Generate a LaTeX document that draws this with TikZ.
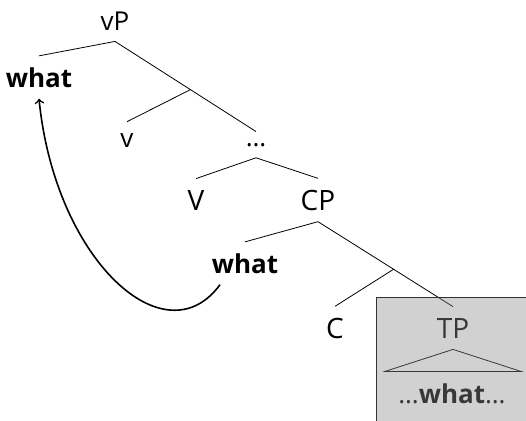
\documentclass[tikz,border=0pt]{standalone}
\usepackage{fontspec}
\setmainfont{Open Sans}
\usetikzlibrary{calc}
\tikzset{
  word/.style={anchor=base, inner sep=5.5pt, font=\fontsize{13}{15}\selectfont},
  phrase/.style={word, font=\fontsize{14}{17}\selectfont},
  movement/.style={->, thick},
  spellout/.style={fill=black!45, fill opacity=0.4, draw=black!80}
}
\begin{document}
\begin{tikzpicture}[x=0.5pt, y=-0.5pt]
  \useasboundingbox (0,0) rectangle (526,420);

  % Labels
  \node[word] (vP) at (115,30) {vP};
  \node[word] (whatTop) at (39,87) {\textbf{what}};
  \node[word] (v) at (127,147) {v};
  \node[word] (dots) at (256,146) {…};
  \node[phrase] (V) at (196,210) {V};
  \node[phrase] (CP) at (318,210) {CP};
  \node[word] (whatLow) at (245,273) {\textbf{what}};
  \node[phrase] (C) at (335,338) {C};
  \node[phrase] (TP) at (453,338) {TP};
  \node[word] (inside) at (452,403) {…\textbf{what}…};

  % Branches
  \coordinate (vbar) at ($(vP.south)!0.535!(dots.north)$);
  \coordinate (cbar) at ($(CP.south)!0.56!(TP.north)$);
  \draw (whatTop.north) -- (vP.south) -- (dots.north);
  \draw (vbar) -- (v.north);
  \draw (V.north) -- (dots.south) -- (CP.north);
  \draw (whatLow.north) -- (CP.south) -- (TP.north);
  \draw (cbar) -- (C.north);
  \draw (TP.south) -- +(-68,22) -- +(68,22) -- cycle;

  % Shaded TP
  \draw[spellout] (376,297) rectangle (540,440);

  % Movement
  \draw[movement] ([xshift=-12.5pt]whatLow.south) .. controls (165,360) and (55,260) .. (whatTop.south);
\end{tikzpicture}
\end{document}
